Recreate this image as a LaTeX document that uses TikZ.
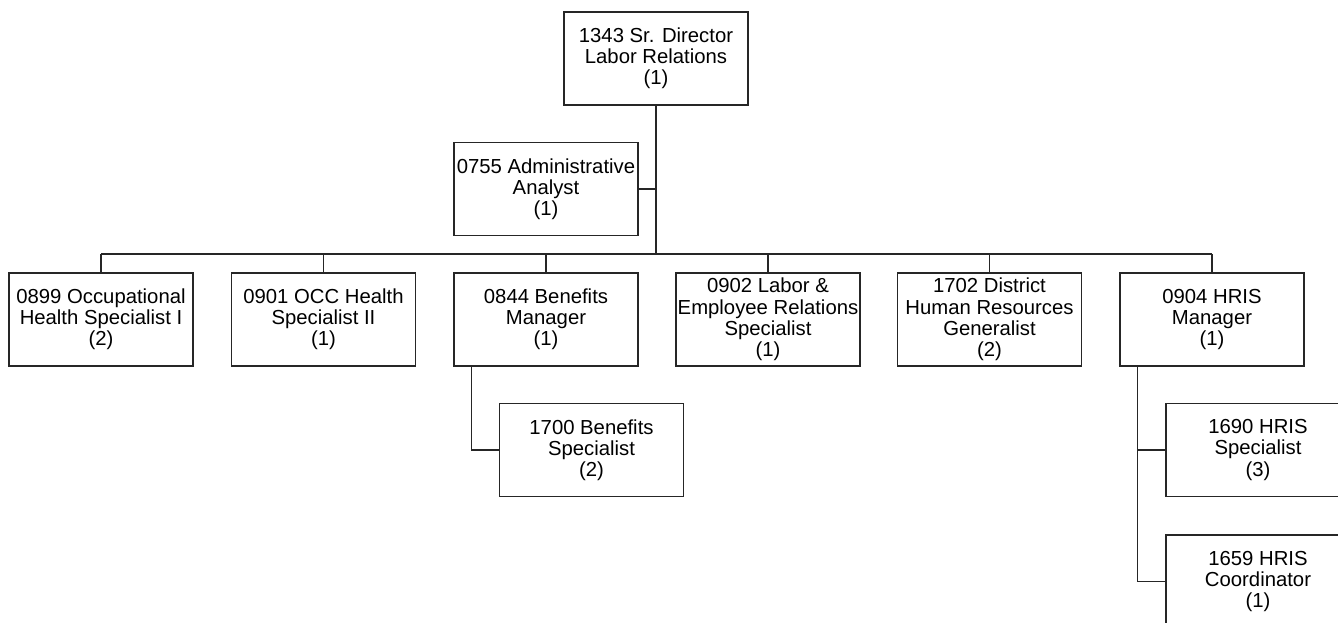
\documentclass[tikz,border=0pt]{standalone}
\usepackage{fontspec}
\setmainfont{Liberation Sans}
\begin{document}
\begin{tikzpicture}[x=1pt,y=-1pt,
  box/.style={draw=black!85, line width=1.3pt, rectangle, minimum width=184pt, minimum height=93pt,
    inner sep=0pt, align=center, font=\fontsize{20.3}{21.2}\selectfont, text=black},
  link/.style={draw=black!85, line width=1.3pt}]
\useasboundingbox (0,0) rectangle (1338,622);
\clip (0,0) rectangle (1338,622);
\node[box] (top) at (656,58.5) {1343 Sr. Director\\Labor Relations\\(1)};
\node[box] (adm) at (546,189) {0755 Administrative\\Analyst\\(1)};
\node[box] (c1) at (101,319.5) {0899 Occupational\\Health Specialist I\\(2)};
\node[box] (c2) at (323.5,319.5) {0901 OCC Health\\Specialist II\\(1)};
\node[box] (c3) at (546,319.5) {0844 Benefits\\Manager\\(1)};
\node[box] (c4) at (768,319.5) {0902 Labor \&\\Employee Relations\\Specialist\\(1)};
\node[box] (c5) at (989.5,319.5) {1702 District\\Human Resources\\Generalist\\(2)};
\node[box] (c6) at (1212,319.5) {0904 HRIS\\Manager\\(1)};
\node[box] (bs) at (591.5,450) {1700 Benefits\\Specialist\\(2)};
\node[box] (hs) at (1258,450) {1690 HRIS\\Specialist\\(3)};
\node[box] (hc) at (1258,581.5) {1659 HRIS\\Coordinator\\(1)};
\coordinate (bus) at (656,254);
\draw[link] (top.south) -- (bus);
\draw[link] (adm.east) -- (adm.east -| top.south);
\draw[link] (c1.north |- bus) -- (c6.north |- bus);
\foreach \c in {c1,c2,c3,c4,c5,c6} \draw[link] (\c.north) -- (\c.north |- bus);
\draw[link] ([xshift=18pt]c3.south west) |- (bs.west);
\draw[link] ([xshift=18pt]c6.south west) |- (hs.west);
\draw[link] ([xshift=18pt]c6.south west) |- (hc.west);
\end{tikzpicture}
\end{document}
